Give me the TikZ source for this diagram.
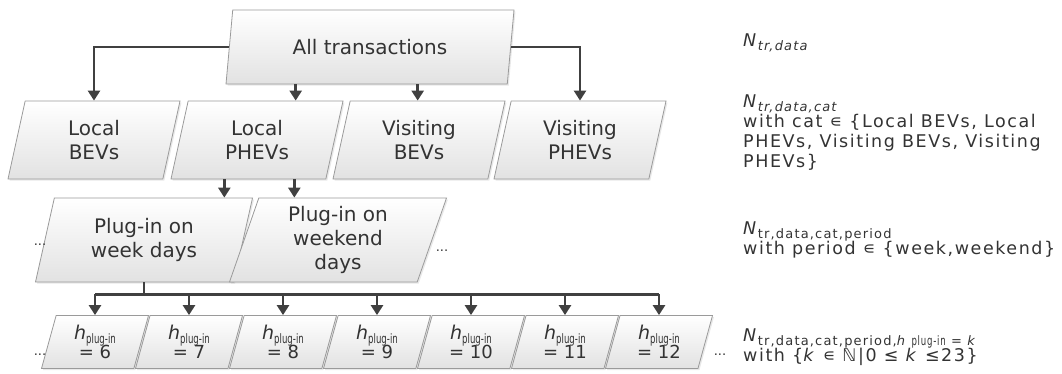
\documentclass[tikz,border=0pt]{standalone}
\usepackage{fontspec}
\setmainfont{DejaVu Sans}
\newfontfamily\notefont[LetterSpace=9]{DejaVu Sans}
\usetikzlibrary{shapes.geometric,arrows.meta,calc,shadows}

\definecolor{linegray}{HTML}{404040}
\definecolor{boxline}{HTML}{9A9A9A}
\definecolor{boxfill}{HTML}{E2E2E2}
\definecolor{txtgray}{HTML}{333333}

\newcommand{\sub}[1]{\raisebox{-3.5pt}{\fontsize{13}{13}\selectfont #1}}
\newcommand{\plugin}{\scalebox{0.66}[1]{\fontsize{13}{13}\selectfont plug-in}}

\tikzset{
  para/.style={trapezium, trapezium left angle=66.5, trapezium right angle=113.5,
    trapezium stretches body, draw=boxline, line width=0.8pt,
    top color=white, bottom color=boxfill, text=txtgray,
    drop shadow={opacity=0.18, shadow xshift=1.5pt, shadow yshift=-1.5pt},
    align=center, inner sep=0pt, font=\fontsize{20}{24}\selectfont},
  conn/.style={draw=linegray, line width=2.6pt},
  arr/.style={conn, -{Triangle[width=12pt,length=10pt]}},
  note/.style={anchor=north west, align=left, inner sep=0pt, text=txtgray,
    font=\notefont\fontsize{17.5}{20}\selectfont},
  dots/.style={anchor=base, inner sep=0pt, text=txtgray, font=\fontsize{13}{13}\selectfont}
}

\begin{document}
\begin{tikzpicture}[x=1pt,y=-1pt]
  \useasboundingbox (0,0) rectangle (1062,373);

  % All transactions
  \node[para, minimum width=288pt, minimum height=74pt] (all) at (370,47) {All transactions};

  % Categories
  \node[para, minimum width=172pt, minimum height=78pt] (lbev)  at (94,140)  {Local\\BEVs};
  \node[para, minimum width=172pt, minimum height=78pt] (lphev) at (257,140) {Local\\PHEVs};
  \node[para, minimum width=172pt, minimum height=78pt] (vbev)  at (419,140) {Visiting\\BEVs};
  \node[para, minimum width=172pt, minimum height=78pt] (vphev) at (580,140) {Visiting\\PHEVs};

  % Periods
  \node[para, minimum width=217pt, minimum height=84pt] (week) at (144,240) {Plug-in on\\week days};
  \node[para, minimum width=217pt, minimum height=84pt] (wend) at (338,240) {Plug-in on\\weekend\\days};
  \node[dots] (dotsA) at (40,245) {...};
  \node[dots] (dotsB) at (442,251) {...};

  % Plug-in hours
  \foreach \k [count=\i from 0] in {6,...,12}
    \node[para, minimum width=107pt, minimum height=53pt] (h\k) at ({95+94*\i},342)
      {{\fontsize{19}{19}\selectfont\textit{h}}\sub{\plugin}\\[-5pt]\fontsize{18}{20}\selectfont= \k};
  \node[dots] (dotsC) at (40,355) {...};
  \node[dots] (dotsD) at (720,355) {...};

  % Arrows
  \coordinate (lbevtop) at (lbev.center |- lbev.top side);
  \coordinate (vphevtop) at (vphev.center |- vphev.top side);
  \coordinate (lphevtop) at ($(lphev.top side)+(30,0)$);
  \coordinate (vbevtop) at ($(vbev.top side)+(-10,0)$);
  \draw[arr] (all.left side) -| (lbevtop);
  \draw[arr] (all.right side) -| (vphevtop);
  \draw[arr] (all.bottom side -| lphevtop) -- (lphevtop);
  \draw[arr] (all.bottom side -| vbevtop) -- (vbevtop);

  \coordinate (lp1) at ($(lphev.bottom side)+(-24,0)$);
  \coordinate (lp2) at ($(lphev.bottom side)+(46,0)$);
  \draw[arr] (lp1) -- (lp1 |- week.top side);
  \draw[arr] (lp2) -- (lp2 |- wend.top side);

  \draw[conn] (week.center |- week.bottom side) -- ++(0,12) coordinate (bus);
  \draw[conn] (bus -| h6.center) -- (bus -| h12.center);
  \foreach \k in {6,...,12}
    \draw[arr] (bus -| h\k.center) -- (h\k.center |- h\k.top side);

  % Notation on the right
  \node[note] (n1) at (743,34) {\textit{N}\sub{\itshape tr,data}};
  \node[note] (n2) at (743,95) {\textit{N}\sub{\itshape tr,data,cat}\\
    with cat ∊ \{Local BEVs, Local\\PHEVs, Visiting BEVs, Visiting\\PHEVs\}};
  \node[note] (n3) at (743,222) {\textit{N}\sub{tr,data,cat,period}\\
    with period ∊ \{week,weekend\}};
  \node[note] (n4) at (743,329) {\textit{N}\sub{tr,data,cat,period,\textit{h} \plugin{} = \textit{k}}\\
    with \{\textit{k} ∊ ℕ|0 ≤ \textit{k} ≤23\}};
\end{tikzpicture}
\end{document}
